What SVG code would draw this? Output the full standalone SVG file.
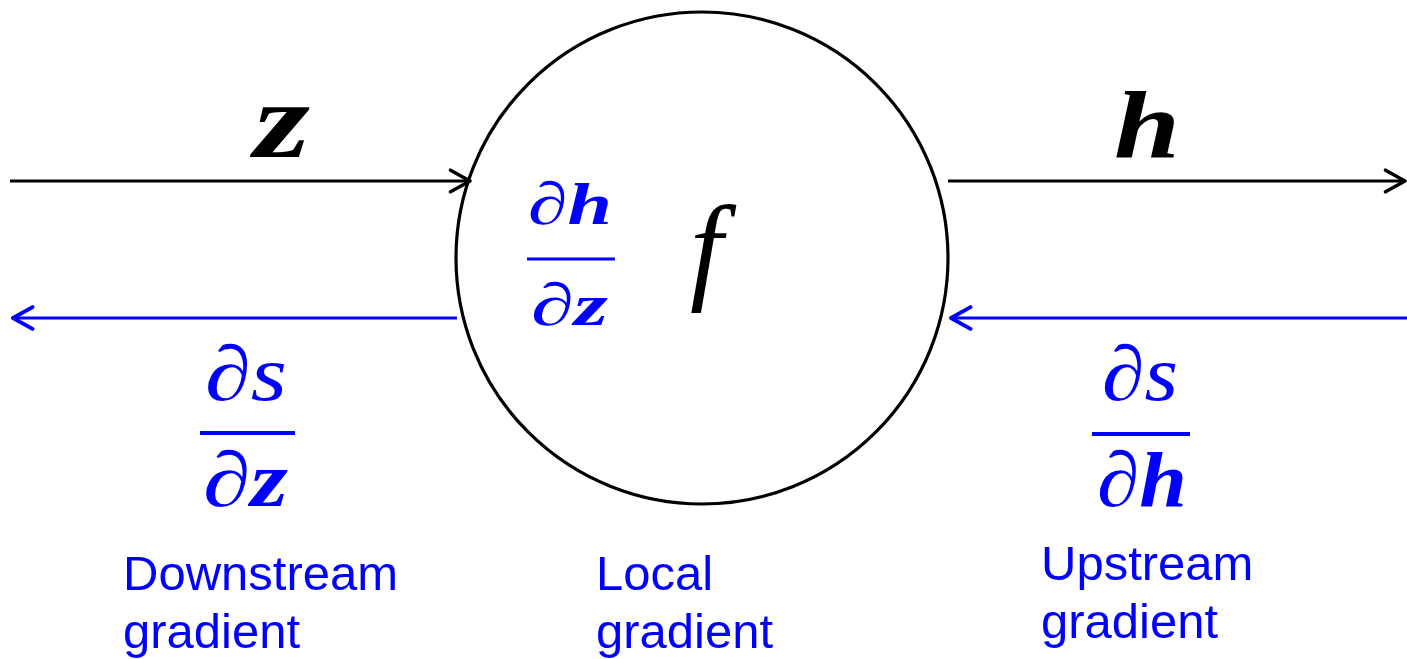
<svg xmlns="http://www.w3.org/2000/svg" width="1407" height="659" viewBox="0 0 1407 659">
<style>
.ln{stroke-width:3.2;fill:none}
.blk{stroke:#000}
.blu{stroke:#0000ff}
.m{font-family:"Liberation Serif","DejaVu Serif",serif;font-style:italic}
.b{font-weight:bold}
.mb{fill:#0000ff}
.lab{font-family:"Liberation Sans",Arial,sans-serif;font-size:49px;fill:#0000ff}
</style>
<defs>
<marker id="ab" markerUnits="userSpaceOnUse" markerWidth="26" markerHeight="26" refX="20" refY="11" orient="auto" viewBox="0 0 24 22">
<path d="M2,1 L20,11 L2,21" fill="none" stroke="#000" stroke-width="3.2" stroke-linecap="round" stroke-linejoin="round"/>
</marker>
<marker id="au" markerUnits="userSpaceOnUse" markerWidth="26" markerHeight="26" refX="20" refY="11" orient="auto" viewBox="0 0 24 22">
<path d="M2,1 L20,11 L2,21" fill="none" stroke="#0000ff" stroke-width="3.6" stroke-linecap="round" stroke-linejoin="round"/>
</marker>
</defs>
<g id="node-f">
<circle cx="702" cy="258" r="246" fill="#fff" stroke="#000" stroke-width="3.2"/>
<text class="m" x="690" y="288" font-size="118">f</text>
<text class="m mb" x="528" y="224" font-size="60" textLength="84" lengthAdjust="spacingAndGlyphs">∂<tspan class="b">h</tspan></text>
<line x1="527" y1="259" x2="615" y2="259" stroke="#0000ff" stroke-width="3.2"/>
<text class="m mb" x="531" y="325" font-size="60" textLength="77" lengthAdjust="spacingAndGlyphs">∂<tspan class="b">z</tspan></text>
</g>
<g id="connectors">
<line class="ln blk" x1="10" y1="181" x2="470" y2="181" marker-end="url(#ab)"/>
<line class="ln blk" x1="948" y1="181" x2="1405" y2="181" marker-end="url(#ab)"/>
<line class="ln blu" x1="457" y1="318" x2="13" y2="318" marker-end="url(#au)" stroke-width="3.6"/>
<line class="ln blu" x1="1407" y1="318" x2="951" y2="318" marker-end="url(#au)" stroke-width="3.6"/>
</g>
<g id="label-z"><text class="m b" x="254" y="157" font-size="108" textLength="56" lengthAdjust="spacingAndGlyphs">z</text></g>
<g id="label-h"><text class="m b" x="1114" y="157" font-size="96" textLength="66" lengthAdjust="spacingAndGlyphs">h</text></g>
<g id="downstream">
<text class="m mb" x="205" y="400" font-size="78" textLength="82" lengthAdjust="spacingAndGlyphs">∂s</text>
<line x1="200" y1="433" x2="295" y2="433" stroke="#0000ff" stroke-width="4"/>
<text class="m mb" x="203" y="506" font-size="78" textLength="85" lengthAdjust="spacingAndGlyphs">∂<tspan class="b">z</tspan></text>
<text class="lab" x="123" y="590">Downstream</text>
<text class="lab" x="123" y="648">gradient</text>
</g>
<g id="local">
<text class="lab" x="596" y="590">Local</text>
<text class="lab" x="596" y="648">gradient</text>
</g>
<g id="upstream">
<text class="m mb" x="1102" y="400" font-size="78" textLength="76" lengthAdjust="spacingAndGlyphs">∂s</text>
<line x1="1092" y1="434" x2="1190" y2="434" stroke="#0000ff" stroke-width="4"/>
<text class="m mb" x="1097" y="506" font-size="78" textLength="90" lengthAdjust="spacingAndGlyphs">∂<tspan class="b">h</tspan></text>
<text class="lab" x="1041" y="580">Upstream</text>
<text class="lab" x="1041" y="638">gradient</text>
</g>
</svg>
